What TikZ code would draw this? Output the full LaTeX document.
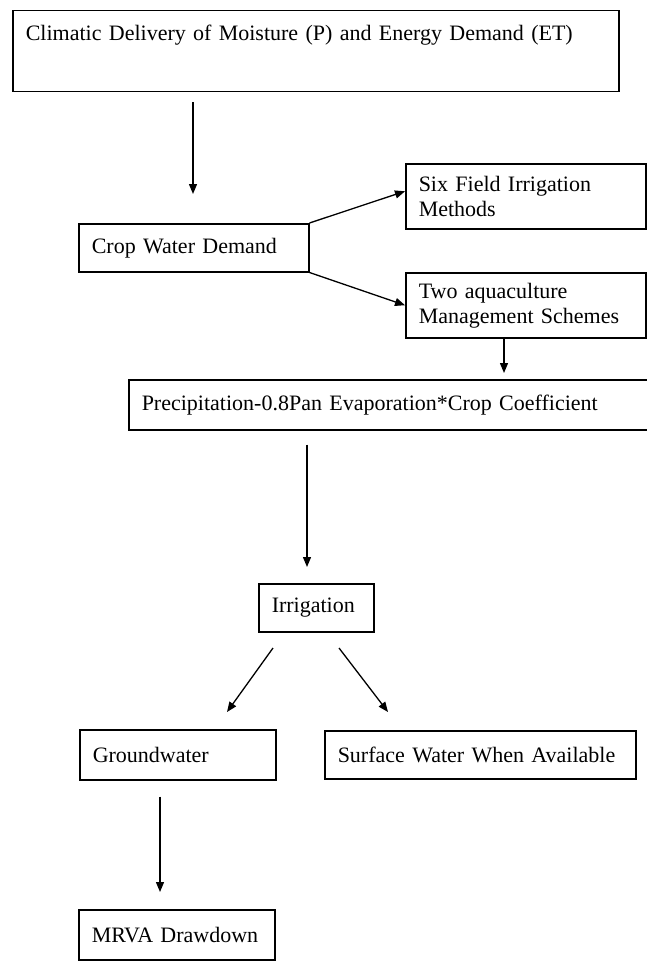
\documentclass[tikz,border=0pt]{standalone}
\usepackage{fontspec}
\setmainfont{Liberation Serif}
\usetikzlibrary{arrows.meta,calc}
\begin{document}
\begin{tikzpicture}[x=1pt,y=-1pt,
  box/.style={draw, line width=1.5pt, anchor=north west, inner xsep=13pt, inner ysep=0pt,
    align=left, font=\fontsize{22}{25}\selectfont},
  arr/.style={line width=1.3pt, -{Triangle[length=10pt,width=8pt]}}]
\useasboundingbox (0,0) rectangle (647,963);
\fill[white] (0,0) rectangle (647,963);
% boxes
\node[box, text width=580pt, text height=30pt, text depth=51pt] (top) at (12,10)
  {Climatic Delivery of Moisture (P) and Energy Demand (ET)};
\node[box, text width=204pt, minimum height=48pt] (crop) at (78,223) {Crop Water Demand};
\node[box, text width=214pt, minimum height=65pt] (six) at (405,163) {Six Field Irrigation\\Methods};
\node[box, text width=214pt, minimum height=65pt] (two) at (405,272) {Two aquaculture\\Management Schemes};
\node[box, text width=500pt, minimum height=50pt] (precip) at (128,379)
  {Precipitation-0.8Pan Evaporation*Crop Coefficient};
\node[box, text width=89pt, minimum height=48pt] (irr) at (258,583) {Irrigation};
\node[box, text width=170pt, minimum height=50pt] (gw) at (79,729) {Groundwater};
\node[box, text width=285pt, minimum height=48pt] (sw) at (324,730) {Surface Water When Available};
\node[box, text width=170pt, minimum height=50pt] (mrva) at (78,909) {MRVA Drawdown};
% helper coordinates
\coordinate (c1) at (193,0);
\coordinate (c3) at (504,0);
\coordinate (c4) at (307,0);
\coordinate (c7) at (160,0);
\coordinate (a5s) at (273,648);
\coordinate (a5e) at (227,712);
\coordinate (a6s) at (339,648);
\coordinate (a6e) at (388,712);
% connectors
\draw[arr, shorten <=10pt, shorten >=29pt] (top.south -| c1) -- (crop.north -| c1);
\draw[arr] (crop.north east) -- ($(six.west)+(0,-5)$);
\draw[arr] (crop.south east) -- (two.west);
\draw[arr, shorten >=6pt] (two.south -| c3) -- (precip.north -| c3);
\draw[arr, shorten <=14pt, shorten >=16pt] (precip.south -| c4) -- (irr.north -| c4);
\draw[arr] (a5s) -- (a5e);
\draw[arr] (a6s) -- (a6e);
\draw[arr, shorten <=16pt, shorten >=17pt] (gw.south -| c7) -- (mrva.north -| c7);
\end{tikzpicture}
\end{document}
